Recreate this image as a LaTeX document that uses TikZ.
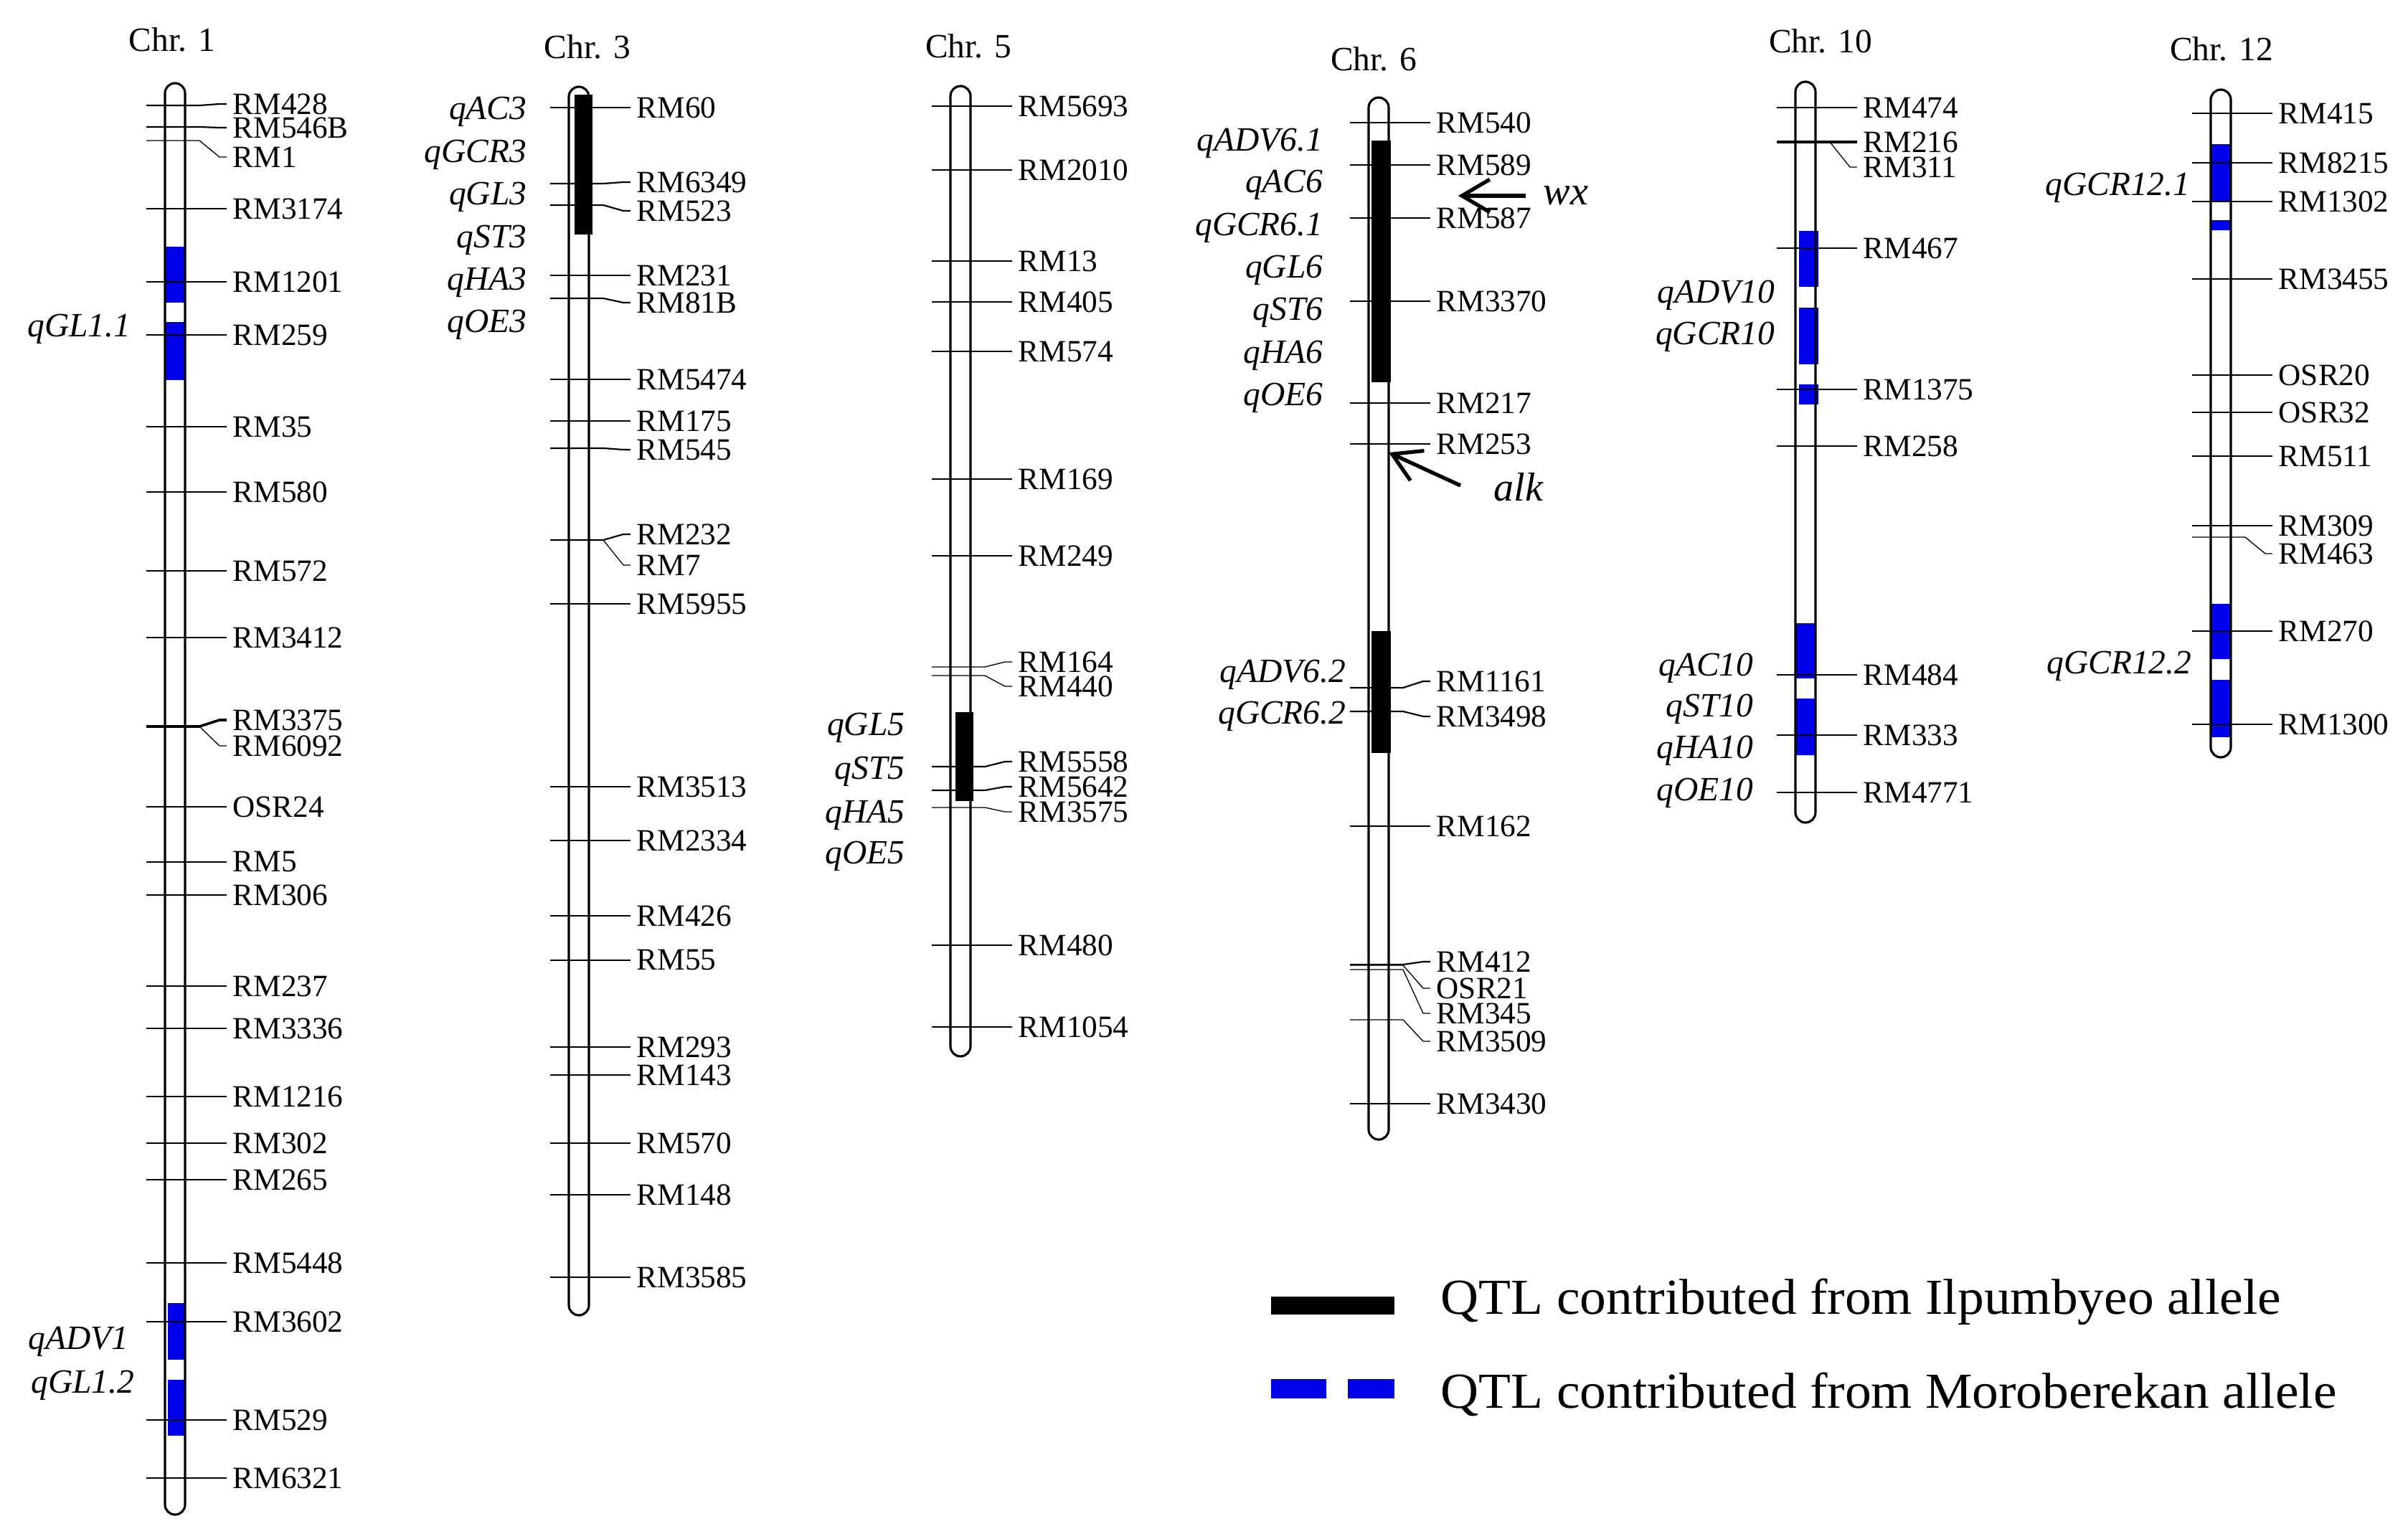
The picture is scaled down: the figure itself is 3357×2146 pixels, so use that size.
\documentclass[tikz,border=0pt]{standalone}
\usepackage{fontspec}
\setmainfont{Liberation Serif}
\usetikzlibrary{arrows.meta,calc}
\definecolor{qblue}{RGB}{0,0,235}
\tikzset{
 chrom/.style={line width=0.9pt},
 tick/.style={line width=0.62pt},
 thintick/.style={line width=0.38pt},
 thicktick/.style={line width=1pt},
 mlab/.style={anchor=west,inner sep=0pt,font=\fontsize{12.3}{14}\selectfont},
 qlab/.style={anchor=east,inner sep=0pt,font=\fontsize{13.5}{15}\selectfont\itshape},
 chrlab/.style={inner sep=0pt,font=\fontsize{13.5}{15}\selectfont},
 blueband/.style={fill=qblue,draw=none},
 blackband/.style={fill=black,draw=none},
 genearrow/.style={line width=1.5pt,-{Straight Barb[length=11pt,width=13pt]}},
 genelab/.style={inner sep=0pt,font=\fontsize{16}{18}\selectfont\itshape},
 leglab/.style={anchor=west,inner sep=0pt,font=\fontsize{20}{22}\selectfont,xscale=1.045},
}
% marker: [style]{centre x}{tick y}{label y}{name}
\newcommand\mk[5][tick]{%
 \node[mlab] (#5) at ({#2+80},#4) {#5};
 \draw[#1] ({#2-40},#3) -- ({#2+34},#3) -- ({#2+62},#4) -- ([xshift=-2.3pt]#5.west);}
% chromosome outline: {centre x}{top}{bottom}
\newcommand\chromo[3]{%
 \draw[chrom] ({#1-14},{#3-14}) -- ({#1-14},{#2+14}) arc[start angle=180,end angle=360,radius=14]
   -- ({#1+14},{#3-14}) arc[start angle=0,end angle=180,radius=14] -- cycle;}
\newcommand\ql[4]{\node[qlab] (#1) at (#2,#3) {#4};}
\begin{document}
\begin{tikzpicture}[x=0.01cm,y=-0.01cm]
\useasboundingbox (0,0) rectangle (3357,2146);

% ---------------- bands ----------------
\fill[blueband] (231,344) rectangle (259,422);
\fill[blueband] (231,449) rectangle (259,530);
\fill[blueband] (234,1817) rectangle (259,1896);
\fill[blueband] (234,1924) rectangle (259,2002);
\fill[blackband] (801,132) rectangle (826,327);
\fill[blackband] (1332,993) rectangle (1357,1117);
\fill[blackband] (1912,196) rectangle (1939,533);
\fill[blackband] (1912,880) rectangle (1939,1050);
\fill[blueband] (2508,322) rectangle (2535,400);
\fill[blueband] (2508,429) rectangle (2535,508);
\fill[blueband] (2508,536) rectangle (2535,564);
\fill[blueband] (2503,869) rectangle (2531,946);
\fill[blueband] (2503,974) rectangle (2531,1053);
\fill[blueband] (3082,201) rectangle (3109,281);
\fill[blueband] (3082,307) rectangle (3109,321);
\fill[blueband] (3082,842) rectangle (3109,919);
\fill[blueband] (3082,948) rectangle (3109,1028);

% ---------------- chromosomes ----------------
\chromo{244}{116}{2112}
\chromo{807}{121}{1834}
\chromo{1339}{120}{1473}
\chromo{1922}{136}{1589}
\chromo{2517}{114}{1147}
\chromo{3096}{125}{1056}

\node[chrlab] (chr1) at (240,55) {Chr. 1};
\node[chrlab] (chr3) at (819,65) {Chr. 3};
\node[chrlab] (chr5) at (1350,64) {Chr. 5};
\node[chrlab] (chr6) at (1915,82) {Chr. 6};
\node[chrlab] (chr10) at (2538,57) {Chr. 10};
\node[chrlab] (chr12) at (3097,68) {Chr. 12};

% ---------------- Chr 1 ----------------
\mk{244}{147}{145}{RM428}
\mk{244}{177}{178}{RM546B}
\mk[thintick]{244}{196}{219}{RM1}
\mk{244}{291}{291}{RM3174}
\mk{244}{393}{393}{RM1201}
\mk{244}{467}{467}{RM259}
\mk{244}{595}{595}{RM35}
\mk{244}{686}{686}{RM580}
\mk{244}{796}{796}{RM572}
\mk{244}{889}{889}{RM3412}
\mk[thicktick]{244}{1013}{1004}{RM3375}
\mk[thintick]{244}{1013}{1040}{RM6092}
\mk{244}{1125}{1125}{OSR24}
\mk{244}{1202}{1202}{RM5}
\mk[thintick]{244}{1248}{1248}{RM306}
\mk{244}{1375}{1375}{RM237}
\mk{244}{1434}{1434}{RM3336}
\mk{244}{1529}{1529}{RM1216}
\mk{244}{1594}{1594}{RM302}
\mk{244}{1645}{1645}{RM265}
\mk{244}{1761}{1761}{RM5448}
\mk{244}{1843}{1843}{RM3602}
\mk{244}{1980}{1980}{RM529}
\mk{244}{2061}{2061}{RM6321}
\ql{qa}{183}{459}{qGL1.1}
\ql{qb}{180}{1871}{qADV1}
\ql{qc}{188}{1932}{qGL1.2}

% ---------------- Chr 3 ----------------
\mk{807}{150}{150}{RM60}
\mk{807}{256}{254}{RM6349}
\mk{807}{286}{294}{RM523}
\mk{807}{384}{384}{RM231}
\mk{807}{416}{422}{RM81B}
\mk{807}{529}{529}{RM5474}
\mk[thintick]{807}{587}{587}{RM175}
\mk{807}{625}{627}{RM545}
\mk{807}{753}{745}{RM232}
\mk[thintick]{807}{753}{788}{RM7}
\mk[thintick]{807}{842}{842}{RM5955}
\mk[thintick]{807}{1097}{1097}{RM3513}
\mk{807}{1172}{1172}{RM2334}
\mk{807}{1277}{1277}{RM426}
\mk{807}{1339}{1339}{RM55}
\mk{807}{1460}{1460}{RM293}
\mk{807}{1499}{1499}{RM143}
\mk{807}{1594}{1594}{RM570}
\mk{807}{1666}{1666}{RM148}
\mk{807}{1781}{1781}{RM3585}
\ql{qd}{735}{156}{qAC3}
\ql{qe}{735}{216}{qGCR3}
\ql{qf}{735}{275}{qGL3}
\ql{qg}{735}{335}{qST3}
\ql{qh}{735}{394}{qHA3}
\ql{qi}{735}{453}{qOE3}

% ---------------- Chr 5 ----------------
\mk[thintick]{1339}{148}{148}{RM5693}
\mk{1339}{237}{237}{RM2010}
\mk[thintick]{1339}{364}{364}{RM13}
\mk{1339}{421}{421}{RM405}
\mk{1339}{490}{490}{RM574}
\mk{1339}{668}{668}{RM169}
\mk{1339}{775}{775}{RM249}
\mk[thintick]{1339}{930}{923}{RM164}
\mk[thintick]{1339}{942}{957}{RM440}
\mk{1339}{1069}{1062}{RM5558}
\mk{1339}{1102}{1097}{RM5642}
\mk[thintick]{1339}{1126}{1132}{RM3575}
\mk{1339}{1318}{1318}{RM480}
\mk{1339}{1432}{1432}{RM1054}
\ql{qj}{1262}{1015}{qGL5}
\ql{qk}{1262}{1076}{qST5}
\ql{ql}{1262}{1137}{qHA5}
\ql{qm}{1262}{1194}{qOE5}

% ---------------- Chr 6 ----------------
\mk{1922}{171}{171}{RM540}
\mk{1922}{230}{230}{RM589}
\mk{1922}{304}{304}{RM587}
\mk{1922}{420}{420}{RM3370}
\mk{1922}{562}{562}{RM217}
\mk[thintick]{1922}{619}{619}{RM253}
\mk{1922}{959}{950}{RM1161}
\mk{1922}{992}{999}{RM3498}
\mk{1922}{1152}{1152}{RM162}
\mk{1922}{1345}{1341}{RM412}
\mk[thintick]{1922}{1346}{1378}{OSR21}
\mk[thintick]{1922}{1352}{1413}{RM345}
\mk[thintick]{1922}{1422}{1452}{RM3509}
\mk[thintick]{1922}{1539}{1539}{RM3430}
\ql{qn}{1845}{200}{qADV6.1}
\ql{qo}{1845}{258}{qAC6}
\ql{qp}{1845}{318}{qGCR6.1}
\ql{qq}{1845}{377}{qGL6}
\ql{qr}{1845}{436}{qST6}
\ql{qs}{1845}{496}{qHA6}
\ql{qt}{1845}{555}{qOE6}
\ql{qu}{1877}{941}{qADV6.2}
\ql{qv}{1877}{999}{qGCR6.2}
% gene arrows
\node[genelab] (wx) at (2183,273) {wx};
\coordinate (wxtail) at (2127,273);
\coordinate (wxtip) at (2033,273);
\draw[genearrow] (wxtail) -- (wxtip);
\node[genelab] (alk) at (2117,679) {alk};
\coordinate (alktail) at (2036,677);
\coordinate (alktip) at (1936,631);
\draw[genearrow] (alktail) -- (alktip);

% ---------------- Chr 10 ----------------
\mk{2517}{150}{150}{RM474}
\mk[thicktick]{2517}{198}{198}{RM216}
\mk[thintick]{2517}{198}{233}{RM311}
\mk{2517}{346}{346}{RM467}
\mk{2517}{543}{543}{RM1375}
\mk[thintick]{2517}{622}{622}{RM258}
\mk{2517}{941}{941}{RM484}
\mk[thintick]{2517}{1025}{1025}{RM333}
\mk{2517}{1105}{1105}{RM4771}
\ql{qw}{2475}{412}{qADV10}
\ql{qx}{2475}{470}{qGCR10}
\ql{qy}{2445}{932}{qAC10}
\ql{qz}{2445}{989}{qST10}
\ql{qaa}{2445}{1047}{qHA10}
\ql{qab}{2445}{1106}{qOE10}

% ---------------- Chr 12 ----------------
\mk[thintick]{3096}{158}{158}{RM415}
\mk{3096}{227}{227}{RM8215}
\mk{3096}{281}{281}{RM1302}
\mk{3096}{389}{389}{RM3455}
\mk{3096}{523}{523}{OSR20}
\mk[thintick]{3096}{575}{575}{OSR32}
\mk{3096}{636}{636}{RM511}
\mk{3096}{733}{733}{RM309}
\mk[thintick]{3096}{749}{772}{RM463}
\mk[thintick]{3096}{880}{880}{RM270}
\mk{3096}{1010}{1010}{RM1300}
\ql{qac}{3054}{262}{qGCR12.1}
\ql{qad}{3056}{929}{qGCR12.2}

% ---------------- legend ----------------
\fill[blackband] (1772,1808) rectangle (1944,1833);
\fill[blueband] (1772,1923) rectangle (1849,1950);
\fill[blueband] (1879,1923) rectangle (1944,1950);
\node[leglab] (leg1) at (2008,1815) {QTL contributed from Ilpumbyeo allele};
\node[leglab] (leg2) at (2008,1944) {QTL contributed from Moroberekan allele};
\end{tikzpicture}
\end{document}
